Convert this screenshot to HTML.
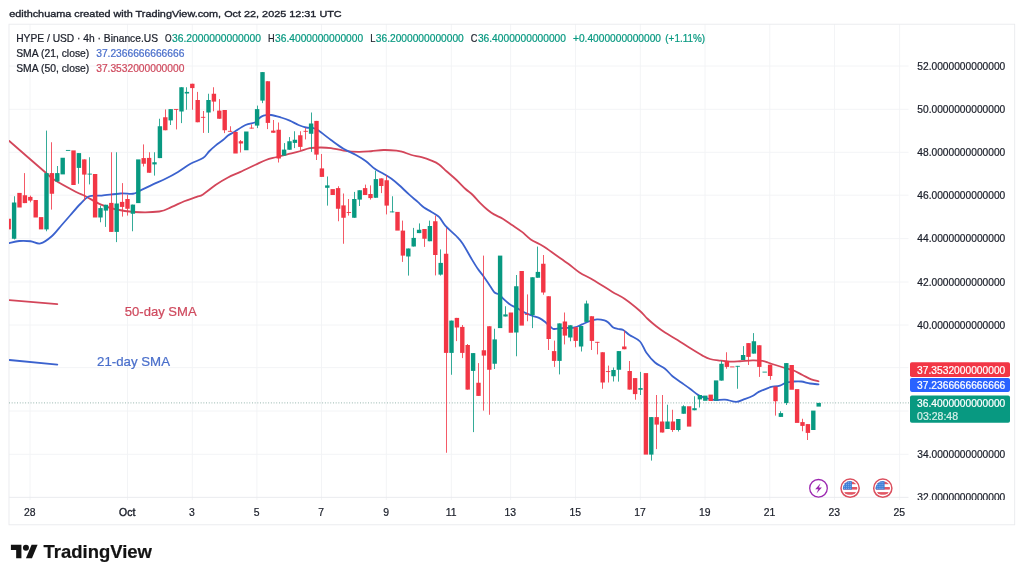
<!DOCTYPE html>
<html lang="en"><head><meta charset="utf-8"><title>HYPE / USD chart</title>
<style>html,body{margin:0;padding:0;background:#fff}body{width:1024px;height:579px;overflow:hidden}svg{display:block;filter:blur(0.5px)}</style>
</head><body>
<svg width="1024" height="579" viewBox="0 0 1024 579" font-family='"Liberation Sans", sans-serif'>
<rect x="0" y="0" width="1024" height="579" fill="#ffffff"/>
<defs><clipPath id="pane"><rect x="9" y="24" width="900" height="474"/></clipPath><clipPath id="axis"><rect x="909" y="24" width="106" height="476"/></clipPath><clipPath id="flag"><circle cx="0" cy="0" r="7.1"/></clipPath></defs>
<g stroke="#F2F3F5" stroke-width="0.9" shape-rendering="auto">
<line x1="30.00" y1="24.3" x2="30.00" y2="500" />
<line x1="127.50" y1="24.3" x2="127.50" y2="500" />
<line x1="192.30" y1="24.3" x2="192.30" y2="500" />
<line x1="256.90" y1="24.3" x2="256.90" y2="500" />
<line x1="321.50" y1="24.3" x2="321.50" y2="500" />
<line x1="386.40" y1="24.3" x2="386.40" y2="500" />
<line x1="451.40" y1="24.3" x2="451.40" y2="500" />
<line x1="510.60" y1="24.3" x2="510.60" y2="500" />
<line x1="575.50" y1="24.3" x2="575.50" y2="500" />
<line x1="640.40" y1="24.3" x2="640.40" y2="500" />
<line x1="705.00" y1="24.3" x2="705.00" y2="500" />
<line x1="769.80" y1="24.3" x2="769.80" y2="500" />
<line x1="834.50" y1="24.3" x2="834.50" y2="500" />
<line x1="899.60" y1="24.3" x2="899.60" y2="500" />
<line x1="9" y1="66.00" x2="908.5" y2="66.00" />
<line x1="9" y1="109.30" x2="908.5" y2="109.30" />
<line x1="9" y1="152.30" x2="908.5" y2="152.30" />
<line x1="9" y1="195.20" x2="908.5" y2="195.20" />
<line x1="9" y1="238.60" x2="908.5" y2="238.60" />
<line x1="9" y1="282.00" x2="908.5" y2="282.00" />
<line x1="9" y1="325.00" x2="908.5" y2="325.00" />
<line x1="9" y1="367.60" x2="908.5" y2="367.60" />
<line x1="9" y1="411.00" x2="908.5" y2="411.00" />
<line x1="9" y1="454.30" x2="908.5" y2="454.30" />
</g>
<g stroke="#E9EAED" stroke-width="0.9" fill="none">
<rect x="9" y="24.2" width="1005.7" height="500.6"/>
<line x1="9" y1="497.4" x2="908.5" y2="497.4"/>
</g>
<line x1="9" y1="402.9" x2="909" y2="402.9" stroke="#7fa59b" stroke-width="0.9" stroke-dasharray="0.9 1.8"/>
<g clip-path="url(#pane)" fill="none" stroke-width="1.8" stroke-linejoin="round" stroke-linecap="round">
<path d="M9.25 141.00 C15.29 146.25 37.79 165.90 45.50 172.50 C53.21 179.10 50.40 177.35 55.50 180.60 C60.60 183.85 71.10 189.39 76.10 192.00 C81.10 194.61 81.43 194.18 85.50 196.25 C89.57 198.32 95.71 202.28 100.50 204.40 C105.29 206.53 108.62 207.73 114.25 209.00 C119.88 210.27 126.75 211.58 134.25 212.00 C141.75 212.42 153.00 212.35 159.25 211.50 C165.50 210.65 167.58 208.61 171.75 206.90 C175.92 205.19 180.08 202.92 184.25 201.25 C188.42 199.58 193.62 198.04 196.75 196.90 C199.88 195.76 199.88 196.38 203.00 194.40 C206.12 192.42 211.33 187.82 215.50 185.00 C219.67 182.18 223.83 179.68 228.00 177.50 C232.17 175.32 235.92 174.03 240.50 171.90 C245.08 169.78 251.25 166.73 255.50 164.75 C259.75 162.77 262.58 161.25 266.00 160.00 C269.42 158.75 272.46 158.18 276.00 157.25 C279.54 156.32 283.29 155.40 287.25 154.40 C291.21 153.40 296.00 152.30 299.75 151.25 C303.50 150.20 306.21 148.72 309.75 148.10 C313.29 147.47 317.46 147.50 321.00 147.50 C324.54 147.50 327.25 147.58 331.00 148.10 C334.75 148.62 338.92 149.97 343.50 150.60 C348.08 151.23 353.92 151.79 358.50 151.90 C363.08 152.01 366.83 151.57 371.00 151.25 C375.17 150.93 379.25 150.11 383.50 150.00 C387.75 149.89 393.29 150.28 396.50 150.60 C399.71 150.92 400.25 151.17 402.75 151.90 C405.25 152.63 408.38 154.13 411.50 155.00 C414.62 155.87 418.17 156.17 421.50 157.10 C424.83 158.03 428.58 159.38 431.50 160.60 C434.42 161.82 436.50 162.62 439.00 164.40 C441.50 166.18 443.58 168.65 446.50 171.25 C449.42 173.85 453.38 177.08 456.50 180.00 C459.62 182.92 462.54 186.25 465.25 188.75 C467.96 191.25 470.25 192.61 472.75 195.00 C475.25 197.39 477.75 200.60 480.25 203.10 C482.75 205.60 485.46 208.12 487.75 210.00 C490.04 211.88 491.50 212.94 494.00 214.40 C496.50 215.86 499.75 216.98 502.75 218.75 C505.75 220.52 508.79 222.81 512.00 225.00 C515.21 227.19 518.88 229.50 522.00 231.90 C525.12 234.30 527.21 237.01 530.75 239.40 C534.29 241.79 539.08 243.65 543.25 246.25 C547.42 248.85 551.58 252.08 555.75 255.00 C559.92 257.92 564.29 260.83 568.25 263.75 C572.21 266.67 575.33 269.79 579.50 272.50 C583.67 275.21 587.83 276.80 593.25 280.00 C598.67 283.20 606.79 288.57 612.00 291.70 C617.21 294.82 619.83 295.53 624.50 298.75 C629.17 301.97 636.17 307.67 640.00 311.00 C643.83 314.33 644.79 316.21 647.50 318.75 C650.21 321.29 653.33 323.96 656.25 326.25 C659.17 328.54 661.46 330.21 665.00 332.50 C668.54 334.79 673.33 337.40 677.50 340.00 C681.67 342.60 685.83 345.50 690.00 348.10 C694.17 350.70 699.17 353.78 702.50 355.60 C705.83 357.42 707.08 358.17 710.00 359.00 C712.92 359.83 716.67 360.17 720.00 360.60 C723.33 361.03 726.67 361.49 730.00 361.60 C733.33 361.71 736.25 361.45 740.00 361.25 C743.75 361.05 748.75 360.46 752.50 360.40 C756.25 360.34 759.92 360.55 762.50 360.90 C765.08 361.25 766.54 362.02 768.00 362.50 C769.46 362.98 768.83 362.96 771.25 363.75 C773.67 364.54 778.96 366.21 782.50 367.25 C786.04 368.29 789.17 368.71 792.50 370.00 C795.83 371.29 799.38 373.43 802.50 375.00 C805.62 376.57 808.58 378.36 811.25 379.40 C813.92 380.44 817.29 380.94 818.50 381.25" stroke="#D3465A"/>
<path d="M9.25 243.10 C10.92 242.75 15.71 241.31 19.25 241.00 C22.79 240.69 26.96 240.85 30.50 241.25 C34.04 241.65 36.96 244.23 40.50 243.40 C44.04 242.57 48.21 239.32 51.75 236.25 C55.29 233.18 58.62 228.54 61.75 225.00 C64.88 221.46 67.38 218.54 70.50 215.00 C73.62 211.46 77.38 206.88 80.50 203.75 C83.62 200.62 85.71 197.61 89.25 196.25 C92.79 194.89 96.54 196.06 101.75 195.60 C106.96 195.14 115.29 193.81 120.50 193.50 C125.71 193.19 129.67 194.27 133.00 193.75 C136.33 193.23 137.17 191.96 140.50 190.40 C143.83 188.84 148.83 186.34 153.00 184.40 C157.17 182.46 161.33 180.83 165.50 178.75 C169.67 176.67 173.83 174.40 178.00 171.90 C182.17 169.40 186.33 166.05 190.50 163.75 C194.67 161.45 199.88 160.18 203.00 158.10 C206.12 156.02 207.17 153.33 209.25 151.25 C211.33 149.17 213.21 147.47 215.50 145.60 C217.79 143.72 220.92 141.67 223.00 140.00 C225.08 138.33 226.12 136.95 228.00 135.60 C229.88 134.25 231.33 133.67 234.25 131.90 C237.17 130.13 241.96 126.61 245.50 125.00 C249.04 123.39 253.33 123.29 255.50 122.25 C257.67 121.21 257.17 119.86 258.50 118.75 C259.83 117.64 261.42 116.22 263.50 115.60 C265.58 114.97 268.08 114.68 271.00 115.00 C273.92 115.32 277.88 116.57 281.00 117.50 C284.12 118.43 286.83 119.35 289.75 120.60 C292.67 121.85 295.79 123.85 298.50 125.00 C301.21 126.15 303.50 126.98 306.00 127.50 C308.50 128.02 311.42 127.58 313.50 128.10 C315.58 128.62 315.58 128.62 318.50 130.60 C321.42 132.58 326.83 136.97 331.00 140.00 C335.17 143.03 339.33 146.25 343.50 148.75 C347.67 151.25 352.25 152.92 356.00 155.00 C359.75 157.08 362.88 158.96 366.00 161.25 C369.12 163.54 371.83 166.67 374.75 168.75 C377.67 170.83 380.71 172.08 383.50 173.75 C386.29 175.42 388.92 176.88 391.50 178.75 C394.08 180.62 396.08 182.39 399.00 185.00 C401.92 187.61 405.88 191.58 409.00 194.40 C412.12 197.22 415.25 199.72 417.75 201.90 C420.25 204.08 421.71 205.83 424.00 207.50 C426.29 209.17 429.00 210.33 431.50 211.90 C434.00 213.47 436.71 214.62 439.00 216.90 C441.29 219.18 442.33 222.38 445.25 225.60 C448.17 228.82 453.58 233.22 456.50 236.25 C459.42 239.28 460.25 240.00 462.75 243.75 C465.25 247.50 469.00 254.58 471.50 258.75 C474.00 262.92 475.67 265.73 477.75 268.75 C479.83 271.77 481.92 273.98 484.00 276.90 C486.08 279.82 488.48 283.65 490.25 286.25 C492.02 288.85 493.14 291.14 494.60 292.50 C496.06 293.86 497.43 293.25 499.00 294.40 C500.57 295.55 502.33 297.84 504.00 299.40 C505.67 300.96 507.67 302.72 509.00 303.75 C510.33 304.78 510.46 304.77 512.00 305.60 C513.54 306.43 516.17 307.60 518.25 308.75 C520.33 309.90 522.21 311.36 524.50 312.50 C526.79 313.64 529.50 314.67 532.00 315.60 C534.50 316.53 537.21 316.95 539.50 318.10 C541.79 319.25 543.67 320.83 545.75 322.50 C547.83 324.17 550.54 327.02 552.00 328.10 C553.46 329.18 552.83 329.00 554.50 329.00 C556.17 329.00 558.67 328.35 562.00 328.10 C565.33 327.85 571.17 328.12 574.50 327.50 C577.83 326.88 579.50 325.44 582.00 324.40 C584.50 323.36 587.00 322.08 589.50 321.25 C592.00 320.42 594.50 319.54 597.00 319.40 C599.50 319.26 602.62 319.88 604.50 320.40 C606.38 320.92 606.79 321.32 608.25 322.50 C609.71 323.68 611.58 326.42 613.25 327.50 C614.92 328.58 616.58 328.58 618.25 329.00 C619.92 329.42 621.38 329.00 623.25 330.00 C625.12 331.00 626.71 333.08 629.50 335.00 C632.29 336.92 637.21 338.58 640.00 341.50 C642.79 344.42 643.75 349.00 646.25 352.50 C648.75 356.00 651.88 359.79 655.00 362.50 C658.12 365.21 662.08 366.46 665.00 368.75 C667.92 371.04 669.79 373.96 672.50 376.25 C675.21 378.54 678.33 380.42 681.25 382.50 C684.17 384.58 687.08 386.60 690.00 388.75 C692.92 390.90 696.04 393.84 698.75 395.40 C701.46 396.96 703.54 397.33 706.25 398.10 C708.96 398.87 711.88 399.75 715.00 400.00 C718.12 400.25 721.46 399.28 725.00 399.60 C728.54 399.92 733.12 401.93 736.25 401.90 C739.38 401.87 741.04 400.38 743.75 399.40 C746.46 398.42 750.00 397.25 752.50 396.00 C755.00 394.75 756.17 393.22 758.75 391.90 C761.33 390.58 765.92 388.93 768.00 388.10 C770.08 387.27 769.25 387.32 771.25 386.90 C773.25 386.48 777.50 386.33 780.00 385.60 C782.50 384.87 783.96 383.18 786.25 382.50 C788.54 381.82 791.25 381.67 793.75 381.50 C796.25 381.33 798.54 381.17 801.25 381.50 C803.96 381.83 807.12 383.02 810.00 383.50 C812.88 383.98 817.08 384.25 818.50 384.40" stroke="#3B62CE"/>
<line x1="9.4" y1="300.2" x2="57.3" y2="304.1" stroke="#D3465A"/>
<line x1="9.4" y1="360.0" x2="57.3" y2="364.6" stroke="#3B62CE"/>
</g>
<g clip-path="url(#pane)">
<rect x="6.50" y="218.75" width="4.40" height="10.65" fill="#F23645"/>
<rect x="14.00" y="196.25" width="1" height="43.15" fill="#089981" fill-opacity="0.82"/>
<rect x="11.90" y="202.50" width="4.40" height="36.25" fill="#089981"/>
<rect x="17.30" y="192.90" width="4.40" height="14.60" fill="#F23645"/>
<rect x="24.00" y="173.10" width="1" height="30.00" fill="#F23645" fill-opacity="0.82"/>
<rect x="22.70" y="195.25" width="4.40" height="7.85" fill="#F23645"/>
<rect x="30.00" y="195.60" width="1" height="6.65" fill="#F23645" fill-opacity="0.82"/>
<rect x="28.10" y="196.90" width="4.40" height="3.70" fill="#F23645"/>
<rect x="33.50" y="200.00" width="4.40" height="17.50" fill="#F23645"/>
<rect x="38.90" y="217.10" width="4.40" height="12.30" fill="#F23645"/>
<rect x="46.00" y="130.60" width="1" height="100.65" fill="#089981" fill-opacity="0.82"/>
<rect x="44.30" y="173.10" width="4.40" height="56.30" fill="#089981"/>
<rect x="51.00" y="142.25" width="1" height="67.35" fill="#F23645" fill-opacity="0.82"/>
<rect x="49.70" y="173.10" width="4.40" height="20.65" fill="#F23645"/>
<rect x="57.00" y="166.00" width="1" height="16.00" fill="#089981" fill-opacity="0.82"/>
<rect x="55.10" y="173.10" width="4.40" height="8.40" fill="#089981"/>
<rect x="60.50" y="157.75" width="4.40" height="16.65" fill="#089981"/>
<rect x="65.90" y="149.95" width="4.40" height="0.90" fill="#089981"/>
<rect x="71.30" y="150.40" width="4.40" height="34.60" fill="#F23645"/>
<rect x="78.00" y="153.10" width="1" height="30.65" fill="#089981" fill-opacity="0.82"/>
<rect x="76.70" y="153.10" width="4.40" height="14.80" fill="#089981"/>
<rect x="84.00" y="159.40" width="1" height="41.20" fill="#F23645" fill-opacity="0.82"/>
<rect x="82.10" y="159.40" width="4.40" height="15.20" fill="#F23645"/>
<rect x="89.00" y="157.25" width="1" height="27.15" fill="#089981" fill-opacity="0.82"/>
<rect x="87.50" y="173.65" width="4.40" height="0.90" fill="#089981"/>
<rect x="92.90" y="174.00" width="4.40" height="43.50" fill="#F23645"/>
<rect x="100.00" y="205.60" width="1" height="16.65" fill="#089981" fill-opacity="0.82"/>
<rect x="98.30" y="208.10" width="4.40" height="9.40" fill="#089981"/>
<rect x="105.00" y="204.75" width="1" height="22.15" fill="#089981" fill-opacity="0.82"/>
<rect x="103.70" y="204.75" width="4.40" height="5.85" fill="#089981"/>
<rect x="111.00" y="152.25" width="1" height="79.65" fill="#F23645" fill-opacity="0.82"/>
<rect x="109.10" y="202.90" width="4.40" height="29.00" fill="#F23645"/>
<rect x="116.00" y="152.25" width="1" height="89.85" fill="#089981" fill-opacity="0.82"/>
<rect x="114.50" y="203.50" width="4.40" height="28.40" fill="#089981"/>
<rect x="122.00" y="183.10" width="1" height="33.50" fill="#F23645" fill-opacity="0.82"/>
<rect x="119.90" y="201.90" width="4.40" height="5.00" fill="#F23645"/>
<rect x="127.00" y="194.75" width="1" height="20.85" fill="#F23645" fill-opacity="0.82"/>
<rect x="125.30" y="199.00" width="4.40" height="9.75" fill="#F23645"/>
<rect x="132.00" y="204.60" width="1" height="26.65" fill="#089981" fill-opacity="0.82"/>
<rect x="130.70" y="204.60" width="4.40" height="9.15" fill="#089981"/>
<rect x="136.10" y="159.40" width="4.40" height="43.70" fill="#089981"/>
<rect x="143.00" y="144.40" width="1" height="22.10" fill="#F23645" fill-opacity="0.82"/>
<rect x="141.50" y="158.10" width="4.40" height="5.65" fill="#F23645"/>
<rect x="149.00" y="152.25" width="1" height="20.50" fill="#F23645" fill-opacity="0.82"/>
<rect x="146.90" y="157.90" width="4.40" height="14.85" fill="#F23645"/>
<rect x="154.00" y="152.25" width="1" height="23.35" fill="#089981" fill-opacity="0.82"/>
<rect x="152.30" y="162.25" width="4.40" height="2.15" fill="#089981"/>
<rect x="159.00" y="118.75" width="1" height="39.35" fill="#089981" fill-opacity="0.82"/>
<rect x="157.70" y="126.25" width="4.40" height="31.85" fill="#089981"/>
<rect x="165.00" y="109.40" width="1" height="20.85" fill="#F23645" fill-opacity="0.82"/>
<rect x="163.10" y="117.25" width="4.40" height="13.00" fill="#F23645"/>
<rect x="170.00" y="109.10" width="1" height="15.90" fill="#089981" fill-opacity="0.82"/>
<rect x="168.50" y="109.10" width="4.40" height="11.30" fill="#089981"/>
<rect x="176.00" y="109.00" width="1" height="20.40" fill="#F23645" fill-opacity="0.82"/>
<rect x="173.90" y="108.95" width="4.40" height="0.90" fill="#F23645"/>
<rect x="181.00" y="87.25" width="1" height="35.85" fill="#089981" fill-opacity="0.82"/>
<rect x="179.30" y="87.25" width="4.40" height="24.25" fill="#089981"/>
<rect x="186.00" y="87.25" width="1" height="22.50" fill="#089981" fill-opacity="0.82"/>
<rect x="184.70" y="91.90" width="4.40" height="1.60" fill="#089981"/>
<rect x="192.00" y="83.75" width="1" height="26.00" fill="#F23645" fill-opacity="0.82"/>
<rect x="190.10" y="83.75" width="4.40" height="4.35" fill="#F23645"/>
<rect x="197.00" y="91.90" width="1" height="30.35" fill="#F23645" fill-opacity="0.82"/>
<rect x="195.50" y="100.00" width="4.40" height="22.25" fill="#F23645"/>
<rect x="203.00" y="111.00" width="1" height="21.90" fill="#F23645" fill-opacity="0.82"/>
<rect x="200.90" y="116.85" width="4.40" height="0.90" fill="#F23645"/>
<rect x="208.00" y="93.75" width="1" height="39.15" fill="#089981" fill-opacity="0.82"/>
<rect x="206.30" y="100.00" width="4.40" height="12.50" fill="#089981"/>
<rect x="213.00" y="87.25" width="1" height="24.00" fill="#F23645" fill-opacity="0.82"/>
<rect x="211.70" y="93.75" width="4.40" height="7.85" fill="#F23645"/>
<rect x="219.00" y="99.10" width="1" height="19.65" fill="#F23645" fill-opacity="0.82"/>
<rect x="217.10" y="110.60" width="4.40" height="8.15" fill="#F23645"/>
<rect x="224.00" y="110.00" width="1" height="23.10" fill="#F23645" fill-opacity="0.82"/>
<rect x="222.50" y="110.00" width="4.40" height="20.25" fill="#F23645"/>
<rect x="230.00" y="126.25" width="1" height="5.45" fill="#F23645" fill-opacity="0.82"/>
<rect x="227.90" y="130.85" width="4.40" height="0.90" fill="#F23645"/>
<rect x="233.30" y="131.90" width="4.40" height="21.60" fill="#F23645"/>
<rect x="240.00" y="140.00" width="1" height="12.50" fill="#F23645" fill-opacity="0.82"/>
<rect x="238.70" y="141.25" width="4.40" height="2.25" fill="#F23645"/>
<rect x="244.10" y="131.50" width="4.40" height="18.75" fill="#089981"/>
<rect x="251.00" y="124.40" width="1" height="4.10" fill="#F23645" fill-opacity="0.82"/>
<rect x="249.50" y="127.65" width="4.40" height="0.90" fill="#F23645"/>
<rect x="257.00" y="105.60" width="1" height="22.50" fill="#089981" fill-opacity="0.82"/>
<rect x="254.90" y="109.10" width="4.40" height="16.50" fill="#089981"/>
<rect x="262.00" y="72.10" width="1" height="31.00" fill="#089981" fill-opacity="0.82"/>
<rect x="260.30" y="72.10" width="4.40" height="28.50" fill="#089981"/>
<rect x="267.00" y="81.25" width="1" height="47.85" fill="#F23645" fill-opacity="0.82"/>
<rect x="265.70" y="81.25" width="4.40" height="41.65" fill="#F23645"/>
<rect x="273.00" y="120.00" width="1" height="12.75" fill="#F23645" fill-opacity="0.82"/>
<rect x="271.10" y="130.60" width="4.40" height="2.15" fill="#F23645"/>
<rect x="278.00" y="122.50" width="1" height="40.00" fill="#F23645" fill-opacity="0.82"/>
<rect x="276.50" y="129.75" width="4.40" height="28.75" fill="#F23645"/>
<rect x="284.00" y="143.10" width="1" height="12.50" fill="#089981" fill-opacity="0.82"/>
<rect x="281.90" y="149.60" width="4.40" height="6.00" fill="#089981"/>
<rect x="289.00" y="137.10" width="1" height="12.65" fill="#089981" fill-opacity="0.82"/>
<rect x="287.30" y="141.25" width="4.40" height="8.50" fill="#089981"/>
<rect x="294.00" y="131.25" width="1" height="16.85" fill="#089981" fill-opacity="0.82"/>
<rect x="292.70" y="139.75" width="4.40" height="3.15" fill="#089981"/>
<rect x="300.00" y="131.25" width="1" height="19.35" fill="#F23645" fill-opacity="0.82"/>
<rect x="298.10" y="135.25" width="4.40" height="11.65" fill="#F23645"/>
<rect x="305.00" y="128.10" width="1" height="11.30" fill="#F23645" fill-opacity="0.82"/>
<rect x="303.50" y="130.85" width="4.40" height="0.90" fill="#F23645"/>
<rect x="311.00" y="112.50" width="1" height="39.40" fill="#089981" fill-opacity="0.82"/>
<rect x="308.90" y="123.50" width="4.40" height="10.25" fill="#089981"/>
<rect x="316.00" y="120.90" width="1" height="39.10" fill="#F23645" fill-opacity="0.82"/>
<rect x="314.30" y="120.90" width="4.40" height="33.70" fill="#F23645"/>
<rect x="321.00" y="154.00" width="1" height="22.90" fill="#F23645" fill-opacity="0.82"/>
<rect x="319.70" y="168.40" width="4.40" height="8.50" fill="#F23645"/>
<rect x="327.00" y="176.50" width="1" height="29.10" fill="#089981" fill-opacity="0.82"/>
<rect x="325.10" y="185.40" width="4.40" height="2.40" fill="#089981"/>
<rect x="330.50" y="189.10" width="4.40" height="5.90" fill="#F23645"/>
<rect x="338.00" y="186.25" width="1" height="35.00" fill="#F23645" fill-opacity="0.82"/>
<rect x="335.90" y="188.10" width="4.40" height="20.65" fill="#F23645"/>
<rect x="343.00" y="193.50" width="1" height="50.25" fill="#F23645" fill-opacity="0.82"/>
<rect x="341.30" y="205.40" width="4.40" height="12.35" fill="#F23645"/>
<rect x="348.00" y="199.00" width="1" height="16.60" fill="#F23645" fill-opacity="0.82"/>
<rect x="346.70" y="212.05" width="4.40" height="0.90" fill="#F23645"/>
<rect x="354.00" y="191.90" width="1" height="25.85" fill="#089981" fill-opacity="0.82"/>
<rect x="352.10" y="199.00" width="4.40" height="18.75" fill="#089981"/>
<rect x="359.00" y="190.25" width="1" height="15.75" fill="#089981" fill-opacity="0.82"/>
<rect x="357.50" y="190.25" width="4.40" height="9.35" fill="#089981"/>
<rect x="365.00" y="184.60" width="1" height="10.40" fill="#F23645" fill-opacity="0.82"/>
<rect x="362.90" y="188.10" width="4.40" height="6.90" fill="#F23645"/>
<rect x="370.00" y="185.40" width="1" height="14.20" fill="#F23645" fill-opacity="0.82"/>
<rect x="368.30" y="194.00" width="4.40" height="4.10" fill="#F23645"/>
<rect x="375.00" y="170.60" width="1" height="27.15" fill="#089981" fill-opacity="0.82"/>
<rect x="373.70" y="179.10" width="4.40" height="18.65" fill="#089981"/>
<rect x="381.00" y="178.40" width="1" height="14.70" fill="#F23645" fill-opacity="0.82"/>
<rect x="379.10" y="178.40" width="4.40" height="7.60" fill="#F23645"/>
<rect x="386.00" y="175.00" width="1" height="39.40" fill="#F23645" fill-opacity="0.82"/>
<rect x="384.50" y="180.25" width="4.40" height="25.35" fill="#F23645"/>
<rect x="392.00" y="196.25" width="1" height="16.05" fill="#089981" fill-opacity="0.82"/>
<rect x="389.90" y="211.45" width="4.40" height="0.90" fill="#089981"/>
<rect x="395.30" y="211.90" width="4.40" height="18.70" fill="#F23645"/>
<rect x="402.00" y="220.60" width="1" height="41.30" fill="#F23645" fill-opacity="0.82"/>
<rect x="400.70" y="230.60" width="4.40" height="25.00" fill="#F23645"/>
<rect x="408.00" y="248.50" width="1" height="27.10" fill="#089981" fill-opacity="0.82"/>
<rect x="406.10" y="248.50" width="4.40" height="8.00" fill="#089981"/>
<rect x="413.00" y="227.90" width="1" height="18.60" fill="#089981" fill-opacity="0.82"/>
<rect x="411.50" y="237.90" width="4.40" height="8.60" fill="#089981"/>
<rect x="419.00" y="223.40" width="1" height="9.70" fill="#089981" fill-opacity="0.82"/>
<rect x="416.90" y="229.75" width="4.40" height="3.35" fill="#089981"/>
<rect x="424.00" y="229.00" width="1" height="17.90" fill="#F23645" fill-opacity="0.82"/>
<rect x="422.30" y="229.00" width="4.40" height="9.75" fill="#F23645"/>
<rect x="429.00" y="220.60" width="1" height="20.65" fill="#089981" fill-opacity="0.82"/>
<rect x="427.70" y="226.00" width="4.40" height="15.25" fill="#089981"/>
<rect x="435.00" y="215.60" width="1" height="59.80" fill="#F23645" fill-opacity="0.82"/>
<rect x="433.10" y="221.25" width="4.40" height="33.75" fill="#F23645"/>
<rect x="440.00" y="249.40" width="1" height="26.20" fill="#089981" fill-opacity="0.82"/>
<rect x="438.50" y="262.90" width="4.40" height="11.70" fill="#089981"/>
<rect x="446.00" y="228.10" width="1" height="224.65" fill="#F23645" fill-opacity="0.82"/>
<rect x="443.90" y="253.75" width="4.40" height="99.15" fill="#F23645"/>
<rect x="451.00" y="320.60" width="1" height="54.15" fill="#089981" fill-opacity="0.82"/>
<rect x="449.30" y="320.60" width="4.40" height="32.30" fill="#089981"/>
<rect x="456.00" y="317.90" width="1" height="23.20" fill="#F23645" fill-opacity="0.82"/>
<rect x="454.70" y="317.90" width="4.40" height="9.60" fill="#F23645"/>
<rect x="462.00" y="325.00" width="1" height="33.10" fill="#F23645" fill-opacity="0.82"/>
<rect x="460.10" y="326.90" width="4.40" height="26.00" fill="#F23645"/>
<rect x="467.00" y="344.00" width="1" height="45.60" fill="#F23645" fill-opacity="0.82"/>
<rect x="465.50" y="345.00" width="4.40" height="44.60" fill="#F23645"/>
<rect x="473.00" y="353.10" width="1" height="79.00" fill="#089981" fill-opacity="0.82"/>
<rect x="470.90" y="353.10" width="4.40" height="17.80" fill="#089981"/>
<rect x="478.00" y="363.10" width="1" height="32.80" fill="#F23645" fill-opacity="0.82"/>
<rect x="476.30" y="382.75" width="4.40" height="13.15" fill="#F23645"/>
<rect x="483.00" y="255.60" width="1" height="155.00" fill="#F23645" fill-opacity="0.82"/>
<rect x="481.70" y="350.25" width="4.40" height="5.35" fill="#F23645"/>
<rect x="489.00" y="326.25" width="1" height="88.50" fill="#F23645" fill-opacity="0.82"/>
<rect x="487.10" y="326.25" width="4.40" height="43.50" fill="#F23645"/>
<rect x="494.00" y="328.75" width="1" height="40.25" fill="#089981" fill-opacity="0.82"/>
<rect x="492.50" y="339.40" width="4.40" height="24.35" fill="#089981"/>
<rect x="497.90" y="255.60" width="4.40" height="72.50" fill="#089981"/>
<rect x="505.00" y="306.25" width="1" height="10.25" fill="#089981" fill-opacity="0.82"/>
<rect x="503.30" y="314.40" width="4.40" height="2.10" fill="#089981"/>
<rect x="508.70" y="312.50" width="4.40" height="20.25" fill="#F23645"/>
<rect x="516.00" y="275.00" width="1" height="81.25" fill="#089981" fill-opacity="0.82"/>
<rect x="514.10" y="286.25" width="4.40" height="46.25" fill="#089981"/>
<rect x="519.50" y="271.00" width="4.40" height="54.60" fill="#F23645"/>
<rect x="527.00" y="294.40" width="1" height="26.85" fill="#F23645" fill-opacity="0.82"/>
<rect x="524.90" y="313.95" width="4.40" height="0.90" fill="#F23645"/>
<rect x="532.00" y="277.25" width="1" height="50.85" fill="#089981" fill-opacity="0.82"/>
<rect x="530.30" y="277.25" width="4.40" height="37.75" fill="#089981"/>
<rect x="537.00" y="246.60" width="1" height="31.15" fill="#089981" fill-opacity="0.82"/>
<rect x="535.70" y="271.90" width="4.40" height="5.85" fill="#089981"/>
<rect x="543.00" y="255.00" width="1" height="39.75" fill="#F23645" fill-opacity="0.82"/>
<rect x="541.10" y="263.75" width="4.40" height="28.75" fill="#F23645"/>
<rect x="548.00" y="296.25" width="1" height="53.75" fill="#F23645" fill-opacity="0.82"/>
<rect x="546.50" y="296.25" width="4.40" height="42.75" fill="#F23645"/>
<rect x="554.00" y="340.60" width="1" height="26.30" fill="#F23645" fill-opacity="0.82"/>
<rect x="551.90" y="351.10" width="4.40" height="9.80" fill="#F23645"/>
<rect x="559.00" y="323.40" width="1" height="51.00" fill="#089981" fill-opacity="0.82"/>
<rect x="557.30" y="323.40" width="4.40" height="37.50" fill="#089981"/>
<rect x="564.00" y="312.50" width="1" height="31.90" fill="#F23645" fill-opacity="0.82"/>
<rect x="562.70" y="321.50" width="4.40" height="14.10" fill="#F23645"/>
<rect x="570.00" y="325.25" width="1" height="16.00" fill="#089981" fill-opacity="0.82"/>
<rect x="568.10" y="325.25" width="4.40" height="12.25" fill="#089981"/>
<rect x="575.00" y="327.25" width="1" height="20.00" fill="#F23645" fill-opacity="0.82"/>
<rect x="573.50" y="327.25" width="4.40" height="13.65" fill="#F23645"/>
<rect x="581.00" y="326.00" width="1" height="25.50" fill="#089981" fill-opacity="0.82"/>
<rect x="578.90" y="326.00" width="4.40" height="20.50" fill="#089981"/>
<rect x="586.00" y="300.60" width="1" height="21.30" fill="#089981" fill-opacity="0.82"/>
<rect x="584.30" y="303.50" width="4.40" height="18.40" fill="#089981"/>
<rect x="591.00" y="316.25" width="1" height="33.75" fill="#F23645" fill-opacity="0.82"/>
<rect x="589.70" y="316.25" width="4.40" height="24.65" fill="#F23645"/>
<rect x="597.00" y="341.90" width="1" height="12.50" fill="#F23645" fill-opacity="0.82"/>
<rect x="595.10" y="341.85" width="4.40" height="0.90" fill="#F23645"/>
<rect x="602.00" y="352.25" width="1" height="36.50" fill="#F23645" fill-opacity="0.82"/>
<rect x="600.50" y="352.25" width="4.40" height="30.25" fill="#F23645"/>
<rect x="608.00" y="365.60" width="1" height="16.90" fill="#F23645" fill-opacity="0.82"/>
<rect x="605.90" y="371.15" width="4.40" height="0.90" fill="#F23645"/>
<rect x="613.00" y="367.50" width="1" height="14.00" fill="#089981" fill-opacity="0.82"/>
<rect x="611.30" y="370.00" width="4.40" height="6.25" fill="#089981"/>
<rect x="618.00" y="351.10" width="1" height="30.50" fill="#089981" fill-opacity="0.82"/>
<rect x="616.70" y="351.10" width="4.40" height="18.65" fill="#089981"/>
<rect x="624.00" y="330.60" width="1" height="18.65" fill="#F23645" fill-opacity="0.82"/>
<rect x="622.10" y="346.50" width="4.40" height="2.75" fill="#F23645"/>
<rect x="629.00" y="361.00" width="1" height="28.60" fill="#F23645" fill-opacity="0.82"/>
<rect x="627.50" y="371.00" width="4.40" height="18.60" fill="#F23645"/>
<rect x="635.00" y="378.10" width="1" height="21.60" fill="#F23645" fill-opacity="0.82"/>
<rect x="632.90" y="378.10" width="4.40" height="16.00" fill="#F23645"/>
<rect x="640.00" y="371.90" width="1" height="23.10" fill="#089981" fill-opacity="0.82"/>
<rect x="638.30" y="388.10" width="4.40" height="1.65" fill="#089981"/>
<rect x="643.70" y="373.10" width="4.40" height="81.50" fill="#F23645"/>
<rect x="651.00" y="417.10" width="1" height="43.50" fill="#089981" fill-opacity="0.82"/>
<rect x="649.10" y="417.10" width="4.40" height="37.50" fill="#089981"/>
<rect x="656.00" y="395.00" width="1" height="54.10" fill="#F23645" fill-opacity="0.82"/>
<rect x="654.50" y="417.10" width="4.40" height="7.50" fill="#F23645"/>
<rect x="662.00" y="395.00" width="1" height="37.50" fill="#F23645" fill-opacity="0.82"/>
<rect x="659.90" y="421.50" width="4.40" height="11.00" fill="#F23645"/>
<rect x="667.00" y="404.75" width="1" height="24.25" fill="#089981" fill-opacity="0.82"/>
<rect x="665.30" y="421.50" width="4.40" height="7.50" fill="#089981"/>
<rect x="672.00" y="409.75" width="1" height="22.15" fill="#F23645" fill-opacity="0.82"/>
<rect x="670.70" y="421.50" width="4.40" height="8.50" fill="#F23645"/>
<rect x="678.00" y="419.00" width="1" height="12.50" fill="#089981" fill-opacity="0.82"/>
<rect x="676.10" y="419.00" width="4.40" height="11.00" fill="#089981"/>
<rect x="683.00" y="405.25" width="1" height="8.50" fill="#089981" fill-opacity="0.82"/>
<rect x="681.50" y="406.25" width="4.40" height="7.50" fill="#089981"/>
<rect x="686.90" y="406.25" width="4.40" height="20.35" fill="#F23645"/>
<rect x="694.00" y="396.25" width="1" height="14.00" fill="#089981" fill-opacity="0.82"/>
<rect x="692.30" y="408.20" width="4.40" height="2.05" fill="#089981"/>
<rect x="699.00" y="395.00" width="1" height="12.50" fill="#089981" fill-opacity="0.82"/>
<rect x="697.70" y="395.00" width="4.40" height="4.40" fill="#089981"/>
<rect x="703.10" y="395.60" width="4.40" height="5.20" fill="#089981"/>
<rect x="708.50" y="394.60" width="4.40" height="6.40" fill="#F23645"/>
<rect x="713.90" y="380.40" width="4.40" height="20.20" fill="#089981"/>
<rect x="721.00" y="360.80" width="1" height="19.80" fill="#089981" fill-opacity="0.82"/>
<rect x="719.30" y="363.75" width="4.40" height="16.85" fill="#089981"/>
<rect x="726.00" y="352.25" width="1" height="16.50" fill="#F23645" fill-opacity="0.82"/>
<rect x="724.70" y="361.25" width="4.40" height="5.65" fill="#F23645"/>
<rect x="730.10" y="366.45" width="4.40" height="0.90" fill="#F23645"/>
<rect x="737.00" y="365.90" width="1" height="22.85" fill="#089981" fill-opacity="0.82"/>
<rect x="735.50" y="365.85" width="4.40" height="0.90" fill="#089981"/>
<rect x="743.00" y="346.10" width="1" height="13.90" fill="#089981" fill-opacity="0.82"/>
<rect x="740.90" y="355.00" width="4.40" height="5.00" fill="#089981"/>
<rect x="748.00" y="343.10" width="1" height="21.90" fill="#F23645" fill-opacity="0.82"/>
<rect x="746.30" y="343.10" width="4.40" height="13.80" fill="#F23645"/>
<rect x="753.00" y="333.10" width="1" height="20.50" fill="#089981" fill-opacity="0.82"/>
<rect x="751.70" y="341.25" width="4.40" height="12.35" fill="#089981"/>
<rect x="759.00" y="345.25" width="1" height="31.65" fill="#F23645" fill-opacity="0.82"/>
<rect x="757.10" y="345.25" width="4.40" height="21.65" fill="#F23645"/>
<rect x="762.50" y="371.65" width="4.40" height="0.90" fill="#089981"/>
<rect x="770.00" y="364.75" width="1" height="15.00" fill="#F23645" fill-opacity="0.82"/>
<rect x="767.90" y="364.75" width="4.40" height="11.25" fill="#F23645"/>
<rect x="775.00" y="386.60" width="1" height="29.00" fill="#F23645" fill-opacity="0.82"/>
<rect x="773.30" y="386.60" width="4.40" height="14.65" fill="#F23645"/>
<rect x="780.00" y="411.25" width="1" height="5.65" fill="#089981" fill-opacity="0.82"/>
<rect x="778.70" y="413.10" width="4.40" height="3.80" fill="#089981"/>
<rect x="786.00" y="363.10" width="1" height="41.90" fill="#089981" fill-opacity="0.82"/>
<rect x="784.10" y="363.10" width="4.40" height="40.00" fill="#089981"/>
<rect x="789.50" y="365.00" width="4.40" height="24.75" fill="#F23645"/>
<rect x="794.90" y="389.10" width="4.40" height="33.80" fill="#F23645"/>
<rect x="802.00" y="418.75" width="1" height="12.50" fill="#F23645" fill-opacity="0.82"/>
<rect x="800.30" y="422.10" width="4.40" height="3.80" fill="#F23645"/>
<rect x="807.00" y="424.10" width="1" height="15.90" fill="#F23645" fill-opacity="0.82"/>
<rect x="805.70" y="424.10" width="4.40" height="8.80" fill="#F23645"/>
<rect x="811.10" y="410.60" width="4.40" height="19.40" fill="#089981"/>
<rect x="816.50" y="402.90" width="4.40" height="3.70" fill="#089981"/>
</g>
<text x="124.80" y="315.90" font-size="13.40" fill="#CF4A5E" text-anchor="start" font-weight="normal" textLength="71.8" lengthAdjust="spacingAndGlyphs" stroke="#CF4A5E" stroke-width="0.22">50-day SMA</text>
<text x="97.10" y="365.60" font-size="13.40" fill="#4A6FCB" text-anchor="start" font-weight="normal" textLength="72.9" lengthAdjust="spacingAndGlyphs" stroke="#4A6FCB" stroke-width="0.22">21-day SMA</text>
<text x="9.20" y="16.90" font-size="9.90" fill="#1b1f2a" text-anchor="start" font-weight="normal" textLength="332.5" lengthAdjust="spacingAndGlyphs" stroke="#1b1f2a" stroke-width="0.35">edithchuama created with TradingView.com, Oct 22, 2025 12:31 UTC</text>
<text x="16.20" y="41.50" font-size="10.40" fill="#1b1f2a" text-anchor="start" font-weight="normal" textLength="141.8" lengthAdjust="spacingAndGlyphs" stroke="#1b1f2a" stroke-width="0.22">HYPE / USD · 4h · Binance.US</text>
<text x="165.00" y="41.50" font-size="10.40" fill="#1b1f2a" text-anchor="start" font-weight="normal" textLength="6.6" lengthAdjust="spacingAndGlyphs" stroke="#1b1f2a" stroke-width="0.22">O</text>
<text x="172.00" y="41.50" font-size="10.40" fill="#089981" text-anchor="start" font-weight="normal" textLength="89.0" lengthAdjust="spacingAndGlyphs" stroke="#089981" stroke-width="0.22">36.2000000000000</text>
<text x="268.10" y="41.50" font-size="10.40" fill="#1b1f2a" text-anchor="start" font-weight="normal" textLength="6.6" lengthAdjust="spacingAndGlyphs" stroke="#1b1f2a" stroke-width="0.22">H</text>
<text x="275.10" y="41.50" font-size="10.40" fill="#089981" text-anchor="start" font-weight="normal" textLength="88.0" lengthAdjust="spacingAndGlyphs" stroke="#089981" stroke-width="0.22">36.4000000000000</text>
<text x="370.30" y="41.50" font-size="10.40" fill="#1b1f2a" text-anchor="start" font-weight="normal" textLength="5.2" lengthAdjust="spacingAndGlyphs" stroke="#1b1f2a" stroke-width="0.22">L</text>
<text x="375.80" y="41.50" font-size="10.40" fill="#089981" text-anchor="start" font-weight="normal" textLength="88.0" lengthAdjust="spacingAndGlyphs" stroke="#089981" stroke-width="0.22">36.2000000000000</text>
<text x="470.70" y="41.50" font-size="10.40" fill="#1b1f2a" text-anchor="start" font-weight="normal" textLength="6.6" lengthAdjust="spacingAndGlyphs" stroke="#1b1f2a" stroke-width="0.22">C</text>
<text x="477.90" y="41.50" font-size="10.40" fill="#089981" text-anchor="start" font-weight="normal" textLength="88.1" lengthAdjust="spacingAndGlyphs" stroke="#089981" stroke-width="0.22">36.4000000000000</text>
<text x="573.00" y="41.50" font-size="10.40" fill="#089981" text-anchor="start" font-weight="normal" textLength="88.0" lengthAdjust="spacingAndGlyphs" stroke="#089981" stroke-width="0.22">+0.4000000000000</text>
<text x="665.30" y="41.50" font-size="10.40" fill="#089981" text-anchor="start" font-weight="normal" textLength="39.8" lengthAdjust="spacingAndGlyphs" stroke="#089981" stroke-width="0.22">(+1.11%)</text>
<text x="16.20" y="57.00" font-size="10.00" fill="#1b1f2a" text-anchor="start" font-weight="normal" textLength="73.1" lengthAdjust="spacingAndGlyphs" stroke="#1b1f2a" stroke-width="0.22">SMA (21, close)</text>
<text x="96.20" y="57.00" font-size="10.00" fill="#4A6FCB" text-anchor="start" font-weight="normal" textLength="88.2" lengthAdjust="spacingAndGlyphs" stroke="#4A6FCB" stroke-width="0.22">37.2366666666666</text>
<text x="16.20" y="72.00" font-size="10.00" fill="#1b1f2a" text-anchor="start" font-weight="normal" textLength="73.1" lengthAdjust="spacingAndGlyphs" stroke="#1b1f2a" stroke-width="0.22">SMA (50, close)</text>
<text x="96.20" y="72.00" font-size="10.00" fill="#CF4A5E" text-anchor="start" font-weight="normal" textLength="88.2" lengthAdjust="spacingAndGlyphs" stroke="#CF4A5E" stroke-width="0.22">37.3532000000000</text>
<g clip-path="url(#axis)">
<text x="917.30" y="69.80" font-size="10.40" fill="#1b1f2a" text-anchor="start" font-weight="normal" textLength="88.0" lengthAdjust="spacingAndGlyphs" stroke="#1b1f2a" stroke-width="0.22">52.0000000000000</text>
<text x="917.30" y="113.10" font-size="10.40" fill="#1b1f2a" text-anchor="start" font-weight="normal" textLength="88.0" lengthAdjust="spacingAndGlyphs" stroke="#1b1f2a" stroke-width="0.22">50.0000000000000</text>
<text x="917.30" y="156.10" font-size="10.40" fill="#1b1f2a" text-anchor="start" font-weight="normal" textLength="88.0" lengthAdjust="spacingAndGlyphs" stroke="#1b1f2a" stroke-width="0.22">48.0000000000000</text>
<text x="917.30" y="199.00" font-size="10.40" fill="#1b1f2a" text-anchor="start" font-weight="normal" textLength="88.0" lengthAdjust="spacingAndGlyphs" stroke="#1b1f2a" stroke-width="0.22">46.0000000000000</text>
<text x="917.30" y="242.40" font-size="10.40" fill="#1b1f2a" text-anchor="start" font-weight="normal" textLength="88.0" lengthAdjust="spacingAndGlyphs" stroke="#1b1f2a" stroke-width="0.22">44.0000000000000</text>
<text x="917.30" y="285.80" font-size="10.40" fill="#1b1f2a" text-anchor="start" font-weight="normal" textLength="88.0" lengthAdjust="spacingAndGlyphs" stroke="#1b1f2a" stroke-width="0.22">42.0000000000000</text>
<text x="917.30" y="328.80" font-size="10.40" fill="#1b1f2a" text-anchor="start" font-weight="normal" textLength="88.0" lengthAdjust="spacingAndGlyphs" stroke="#1b1f2a" stroke-width="0.22">40.0000000000000</text>
<text x="917.30" y="458.10" font-size="10.40" fill="#1b1f2a" text-anchor="start" font-weight="normal" textLength="88.0" lengthAdjust="spacingAndGlyphs" stroke="#1b1f2a" stroke-width="0.22">34.0000000000000</text>
<text x="917.30" y="501.20" font-size="10.40" fill="#1b1f2a" text-anchor="start" font-weight="normal" textLength="88.0" lengthAdjust="spacingAndGlyphs" stroke="#1b1f2a" stroke-width="0.22">32.0000000000000</text>
</g>
<rect x="910" y="362.3" width="100" height="14.8" rx="1.8" fill="#F23645"/>
<text x="917.10" y="373.70" font-size="10.40" fill="#ffffff" text-anchor="start" font-weight="normal" textLength="88.2" lengthAdjust="spacingAndGlyphs" stroke="#ffffff" stroke-width="0.22">37.3532000000000</text>
<rect x="910" y="377.9" width="100" height="14.0" rx="1.8" fill="#2962FF"/>
<text x="917.10" y="388.50" font-size="10.40" fill="#ffffff" text-anchor="start" font-weight="normal" textLength="88.2" lengthAdjust="spacingAndGlyphs" stroke="#ffffff" stroke-width="0.22">37.2366666666666</text>
<rect x="910" y="395.6" width="100" height="27.2" rx="1.8" fill="#089981"/>
<text x="917.10" y="407.20" font-size="10.40" fill="#ffffff" text-anchor="start" font-weight="normal" textLength="88.2" lengthAdjust="spacingAndGlyphs" stroke="#ffffff" stroke-width="0.22">36.4000000000000</text>
<text x="917.10" y="419.90" font-size="10.40" fill="#d6f0ea" text-anchor="start" font-weight="normal" textLength="41.0" lengthAdjust="spacingAndGlyphs" stroke="#d6f0ea" stroke-width="0.22">03:28:48</text>
<text x="29.70" y="515.70" font-size="10.40" fill="#1b1f2a" text-anchor="middle" font-weight="normal" stroke="#1b1f2a" stroke-width="0.22">28</text>
<text x="127.20" y="515.70" font-size="10.40" fill="#1b1f2a" text-anchor="middle" font-weight="normal" stroke="#1b1f2a" stroke-width="0.40">Oct</text>
<text x="192.00" y="515.70" font-size="10.40" fill="#1b1f2a" text-anchor="middle" font-weight="normal" stroke="#1b1f2a" stroke-width="0.22">3</text>
<text x="256.60" y="515.70" font-size="10.40" fill="#1b1f2a" text-anchor="middle" font-weight="normal" stroke="#1b1f2a" stroke-width="0.22">5</text>
<text x="321.20" y="515.70" font-size="10.40" fill="#1b1f2a" text-anchor="middle" font-weight="normal" stroke="#1b1f2a" stroke-width="0.22">7</text>
<text x="386.10" y="515.70" font-size="10.40" fill="#1b1f2a" text-anchor="middle" font-weight="normal" stroke="#1b1f2a" stroke-width="0.22">9</text>
<text x="451.10" y="515.70" font-size="10.40" fill="#1b1f2a" text-anchor="middle" font-weight="normal" stroke="#1b1f2a" stroke-width="0.22">11</text>
<text x="510.30" y="515.70" font-size="10.40" fill="#1b1f2a" text-anchor="middle" font-weight="normal" stroke="#1b1f2a" stroke-width="0.22">13</text>
<text x="575.20" y="515.70" font-size="10.40" fill="#1b1f2a" text-anchor="middle" font-weight="normal" stroke="#1b1f2a" stroke-width="0.22">15</text>
<text x="640.10" y="515.70" font-size="10.40" fill="#1b1f2a" text-anchor="middle" font-weight="normal" stroke="#1b1f2a" stroke-width="0.22">17</text>
<text x="704.70" y="515.70" font-size="10.40" fill="#1b1f2a" text-anchor="middle" font-weight="normal" stroke="#1b1f2a" stroke-width="0.22">19</text>
<text x="769.50" y="515.70" font-size="10.40" fill="#1b1f2a" text-anchor="middle" font-weight="normal" stroke="#1b1f2a" stroke-width="0.22">21</text>
<text x="834.20" y="515.70" font-size="10.40" fill="#1b1f2a" text-anchor="middle" font-weight="normal" stroke="#1b1f2a" stroke-width="0.22">23</text>
<text x="899.30" y="515.70" font-size="10.40" fill="#1b1f2a" text-anchor="middle" font-weight="normal" stroke="#1b1f2a" stroke-width="0.22">25</text>
<circle cx="818.50" cy="488.30" r="8.80" fill="#fff" stroke="#9C27B0" stroke-width="1.30"/>
<path d="M820.6 483.3 L815.2 489.3 L818.3 489.3 L816.5 493.4 L821.9 487.4 L818.8 487.4 Z" fill="#9C27B0"/>
<circle cx="850.10" cy="488.20" r="9.10" fill="#fff" stroke="#DB4F5E" stroke-width="1.50"/>
<g transform="translate(850.10 488.2)"><g clip-path="url(#flag)">
<rect x="-8" y="-8" width="16" height="16" fill="#ffffff"/>
<rect x="-8" y="-1.2" width="16" height="2.6" fill="#E25764"/>
<rect x="-8" y="3.9" width="16" height="2.6" fill="#E25764"/>
<rect x="-8" y="-6.6" width="16" height="2.6" fill="#E25764"/>
<rect x="-8" y="-8" width="9.8" height="9.4" fill="#3F7FD8"/>
<g fill="#cfe3fb"><circle cx="-5.6" cy="-5.4" r="0.45"/><circle cx="-5.6" cy="-3.4" r="0.45"/><circle cx="-5.6" cy="-1.4" r="0.45"/><circle cx="-5.6" cy="0.4" r="0.45"/><circle cx="-3.7" cy="-5.4" r="0.45"/><circle cx="-3.7" cy="-3.4" r="0.45"/><circle cx="-3.7" cy="-1.4" r="0.45"/><circle cx="-3.7" cy="0.4" r="0.45"/><circle cx="-1.8" cy="-5.4" r="0.45"/><circle cx="-1.8" cy="-3.4" r="0.45"/><circle cx="-1.8" cy="-1.4" r="0.45"/><circle cx="-1.8" cy="0.4" r="0.45"/><circle cx="0.1" cy="-5.4" r="0.45"/><circle cx="0.1" cy="-3.4" r="0.45"/><circle cx="0.1" cy="-1.4" r="0.45"/><circle cx="0.1" cy="0.4" r="0.45"/></g>
</g></g>
<circle cx="882.80" cy="488.20" r="9.10" fill="#fff" stroke="#DB4F5E" stroke-width="1.50"/>
<g transform="translate(882.80 488.2)"><g clip-path="url(#flag)">
<rect x="-8" y="-8" width="16" height="16" fill="#ffffff"/>
<rect x="-8" y="-1.2" width="16" height="2.6" fill="#E25764"/>
<rect x="-8" y="3.9" width="16" height="2.6" fill="#E25764"/>
<rect x="-8" y="-6.6" width="16" height="2.6" fill="#E25764"/>
<rect x="-8" y="-8" width="9.8" height="9.4" fill="#3F7FD8"/>
<g fill="#cfe3fb"><circle cx="-5.6" cy="-5.4" r="0.45"/><circle cx="-5.6" cy="-3.4" r="0.45"/><circle cx="-5.6" cy="-1.4" r="0.45"/><circle cx="-5.6" cy="0.4" r="0.45"/><circle cx="-3.7" cy="-5.4" r="0.45"/><circle cx="-3.7" cy="-3.4" r="0.45"/><circle cx="-3.7" cy="-1.4" r="0.45"/><circle cx="-3.7" cy="0.4" r="0.45"/><circle cx="-1.8" cy="-5.4" r="0.45"/><circle cx="-1.8" cy="-3.4" r="0.45"/><circle cx="-1.8" cy="-1.4" r="0.45"/><circle cx="-1.8" cy="0.4" r="0.45"/><circle cx="0.1" cy="-5.4" r="0.45"/><circle cx="0.1" cy="-3.4" r="0.45"/><circle cx="0.1" cy="-1.4" r="0.45"/><circle cx="0.1" cy="0.4" r="0.45"/></g>
</g></g>
<g transform="translate(10.9 541.8) scale(0.752)" fill="#131313"><path d="M14 22H7V11H0V4h14v18z"/><circle cx="20" cy="8" r="4"/><path d="M28 22h-8l7.5-18h8L28 22z"/></g>
<text x="43.60" y="558.20" font-size="18.20" fill="#131313" text-anchor="start" font-weight="bold" textLength="108.4" lengthAdjust="spacingAndGlyphs" stroke="#131313" stroke-width="0.22">TradingView</text>
</svg>
</body></html>
